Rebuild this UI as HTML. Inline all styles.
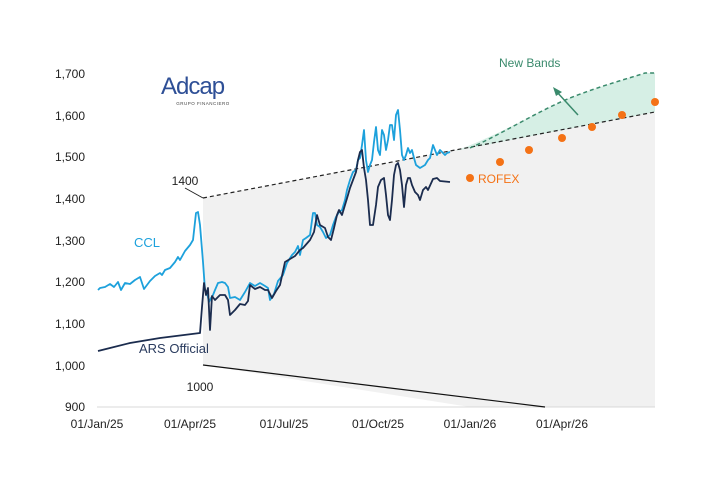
<!DOCTYPE html>
<html><head><meta charset="utf-8"><style>
body{margin:0;background:#fff;width:721px;height:472px;overflow:hidden}
text{font-family:"Liberation Sans",sans-serif}
</style></head><body>
<svg width="721" height="472" viewBox="0 0 721 472">
<polygon points="203,198 655,112 655,407 470,407 203,365" fill="#f1f1f1"/>
<path d="M455,151 C500,135 540,110 570,98 C600,86 630,78 645,73 L655,73 L655,112 Z" fill="#d6efe5"/>
<line x1="97" y1="407" x2="655" y2="407" stroke="#d8d8d8" stroke-width="1"/>
<line x1="203" y1="198" x2="655" y2="112" stroke="#222" stroke-width="1.2" stroke-dasharray="4,3"/>
<path d="M470,148 C500,135 540,110 570,98 C600,86 630,78 645,73 L655,73" fill="none" stroke="#3a8a6c" stroke-width="1.5" stroke-dasharray="4,3"/>
<line x1="203" y1="365" x2="545" y2="407" stroke="#111" stroke-width="1.2"/>
<line x1="185" y1="188" x2="203" y2="198" stroke="#222" stroke-width="1"/>
<line x1="578" y1="115" x2="556" y2="91" stroke="#3a8a6c" stroke-width="1.5"/>
<polygon points="553,87 562,92 556,96" fill="#3a8a6c"/>
<polyline fill="none" stroke="#1da1dc" stroke-width="1.8" stroke-linejoin="round" points="98,290 100,288 105,287 110,284 114,287 118,282 121,290 125,283 130,284 135,280 140,277 144,289 150,281 155,276 160,273 162,275 165,270 170,268 175,262 178,257 180,260 185,251 190,245 193,240 196,213 198,212 200,225 203,262 205,290 207,293 209,302 211,298 213,295 215,290 218,283 222,282 225,283 228,287 230,298 235,297 240,300 245,292 250,283 255,286 260,283 265,286 268,288 270,300 274,294 278,281 283,275 287,263 292,255 295,252 298,246 300,255 303,240 306,238 310,235 313,213 315,213 317,225 320,227 323,232 326,238 330,235 333,225 336,217 339,212 342,210 345,200 347,190 350,180 353,172 356,170 358,160 360,158 362,145 364,130 366,160 368,172 370,165 372,160 374,142 376,127 378,150 380,155 382,130 384,135 386,150 388,140 390,125 392,125 394,140 396,115 398,110 400,130 402,155 404,160 406,155 408,148 410,153 412,150 414,158 416,165 420,168 425,165 428,160 430,158 433,145 435,150 437,155 440,150 445,155 447,153 450,152"/>
<polyline fill="none" stroke="#1b2c4e" stroke-width="1.8" stroke-linejoin="round" points="98,351 110,348 130,343 160,338 200,333 202,307 204,283 206,295 208,288 210,330 212,296 215,300 220,295 225,295 228,300 230,315 235,310 240,304 245,305 248,301 250,285 255,289 260,287 265,290 268,290 272,298 276,291 280,285 285,262 290,259 295,256 300,250 303,248 310,240 314,232 317,215 320,225 325,228 328,237 331,240 334,228 337,215 339,210 342,215 345,205 348,195 350,188 353,180 356,172 358,160 360,152 362,150 364,168 366,180 368,200 370,225 373,225 376,205 378,187 381,180 384,178 386,195 388,215 390,220 392,200 394,175 396,165 398,163 400,170 402,185 404,207 406,185 408,178 410,178 412,185 415,192 418,195 420,200 423,190 426,187 428,190 433,179 437,178 440,181 450,182"/>
<g fill="#f47216">
<circle cx="470" cy="178" r="4"/><circle cx="500" cy="162" r="4"/><circle cx="529" cy="150" r="4"/><circle cx="562" cy="138" r="4"/><circle cx="592" cy="127" r="4"/><circle cx="622" cy="115" r="4"/><circle cx="655" cy="102" r="4"/>
</g>
<g font-size="12" fill="#222" text-anchor="end">
<text x="85" y="78">1,700</text><text x="85" y="120">1,600</text><text x="85" y="161">1,500</text><text x="85" y="203">1,400</text><text x="85" y="245">1,300</text><text x="85" y="286">1,200</text><text x="85" y="328">1,100</text><text x="85" y="370">1,000</text><text x="85" y="411">900</text>
</g>
<g font-size="12" fill="#222" text-anchor="middle">
<text x="97" y="428">01/Jan/25</text><text x="190" y="428">01/Apr/25</text><text x="284" y="428">01/Jul/25</text><text x="378" y="428">01/Oct/25</text><text x="470" y="428">01/Jan/26</text><text x="562" y="428">01/Apr/26</text>
</g>
<text x="185" y="185" font-size="12" fill="#222" text-anchor="middle">1400</text>
<text x="200" y="391" font-size="12" fill="#222" text-anchor="middle">1000</text>
<text x="134" y="247" font-size="13" fill="#1da1dc">CCL</text>
<text x="139" y="353" font-size="13" fill="#2a3b5e">ARS Official</text>
<text x="478" y="183" font-size="12" fill="#f47216">ROFEX</text>
<text x="499" y="67" font-size="12" fill="#3a8a6c">New Bands</text>
<text x="161" y="94" font-size="24" fill="#2e4f96" letter-spacing="-1">Adcap</text>
<text x="203" y="105" font-size="4.5" fill="#444" text-anchor="middle" letter-spacing="0.5">GRUPO FINANCIERO</text>
</svg>
</body></html>
